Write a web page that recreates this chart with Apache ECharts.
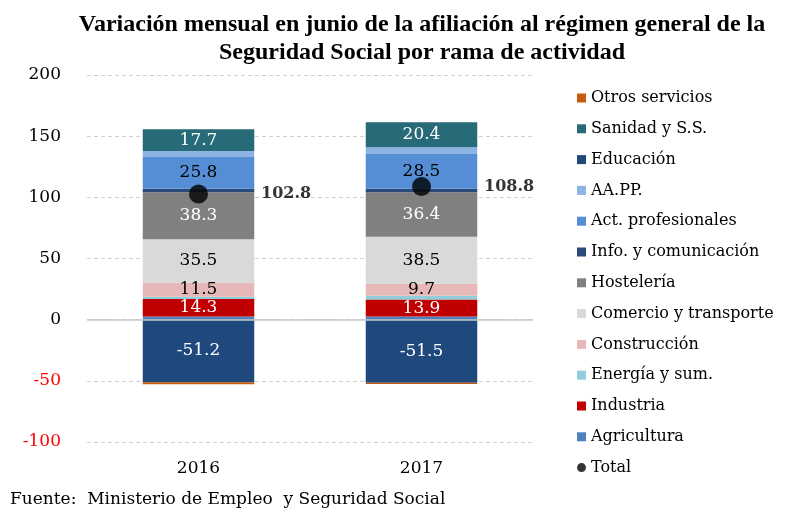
<!DOCTYPE html>
<html>
<head>
<meta charset="utf-8">
<script src="https://cdn.jsdelivr.net/npm/echarts@6/dist/echarts.min.js"></script>
<style>
  body { margin: 0; background: #fff; }
  #chart { width: 793px; height: 512px; }
</style>
</head>
<body>
<div id="chart"></div>
<script>
  // años
  var years = ['2016', '2017'];
  // ramas de actividad (valores en miles)
  var agricultura = [2.5, 2.5];
  var industria = [14.3, 13.9];
  var energia = [2.0, 3.2];
  var construccion = [11.5, 9.7];
  var comercio = [35.5, 38.5];
  var hosteleria = [38.3, 36.4];
  var info = [3.0, 2.8];
  var actProf = [25.8, 28.5];
  var aapp = [5.0, 5.5];
  var educacion = [-51.2, -51.5];
  var sanidad = [17.7, 20.4];
  var otros = [-1.6, -1.1];
  var total = [102.8, 108.8];
  var yTicks = [-100, -50, 0, 50, 100, 150, 200];

  var fontFamily = '"DejaVu Serif", "Liberation Serif", serif';
  var titleFont = '"Liberation Serif", serif';

  function barSerie(name, data, color, showLabel, labelColor) {
    return {
      name: name,
      type: 'bar',
      stack: 'ramas',
      barWidth: '50%',
      data: data,
      itemStyle: {color: color},
      label: {
        show: showLabel,
        position: 'inside',
        color: labelColor,
        fontFamily: fontFamily,
        fontSize: 17,
        formatter: function (p) {
          return p.value.toFixed(1);
        }
      },
      emphasis: {disabled: true}
    };
  }

  var series = [
    barSerie('Agricultura', agricultura, '#4f81bd', false),
    barSerie('Industria', industria, '#c00000', true, '#ffffff'),
    barSerie('Energía y sum.', energia, '#92cddc', false),
    barSerie('Construcción', construccion, '#e6b9b8', true, '#000000'),
    barSerie('Comercio y transporte', comercio, '#d9d9d9', true, '#000000'),
    barSerie('Hostelería', hosteleria, '#808080', true, '#ffffff'),
    barSerie('Info. y comunicación', info, '#2a4a7a', false),
    barSerie('Act. profesionales', actProf, '#558ed5', true, '#000000'),
    barSerie('AA.PP.', aapp, '#8eb4e3', false),
    barSerie('Educación', educacion, '#1f497d', true, '#ffffff'),
    barSerie('Sanidad y S.S.', sanidad, '#276a78', true, '#ffffff'),
    barSerie('Otros servicios', otros, '#c55a11', false)
  ];

  // linea de cero
  series[0].markLine = {
    silent: true,
    symbol: 'none',
    label: {show: false},
    lineStyle: {color: '#c8c8c8', type: 'solid', width: 1.5},
    data: [{yAxis: 0}]
  };

  series.push({
    name: 'Total',
    type: 'scatter',
    data: total,
    symbol: 'circle',
    symbolSize: 19,
    z: 10,
    itemStyle: {color: '#000000'},
    label: {
      show: true,
      position: 'right',
      distance: 53,
      color: '#000000',
      fontFamily: fontFamily,
      fontWeight: 'bold',
      fontSize: 16
    }
  });

  var legendOrder = ['Otros servicios', 'Sanidad y S.S.', 'Educación', 'AA.PP.', 'Act. profesionales',
    'Info. y comunicación', 'Hostelería', 'Comercio y transporte', 'Construcción', 'Energía y sum.',
    'Industria', 'Agricultura', 'Total'];

  var myChart = echarts.init(document.getElementById('chart'));
  var option = {
    animation: false,
    title: {
      text: 'Variación mensual en junio de la afiliación al régimen general de la\nSeguridad Social por rama de actividad',
      left: 417,
      top: 6,
      textAlign: 'center',
      textStyle: {
        fontFamily: titleFont,
        fontWeight: 'bold',
        fontSize: 24,
        lineHeight: 28,
        color: '#000'
      }
    },
    graphic: [{
      type: 'text',
      left: 10,
      top: 491,
      style: {
        text: 'Fuente:  Ministerio de Empleo  y Seguridad Social',
        fontFamily: fontFamily,
        fontSize: 17,
        fill: '#000'
      }
    }],
    legend: {
      orient: 'vertical',
      left: 572,
      top: 84,
      itemWidth: 9,
      itemHeight: 9,
      itemGap: 12.8,
      data: legendOrder.map(function (n) {
        return n === 'Total' ? {name: n, icon: 'circle'} : {name: n, icon: 'rect'};
      }),
      textStyle: {
        fontFamily: fontFamily,
        fontSize: 16,
        lineHeight: 18,
        color: '#000'
      },
      selectedMode: false
    },
    grid: {
      left: 87,
      right: 260,
      top: 75,
      bottom: 70
    },
    xAxis: {
      type: 'category',
      data: years,
      axisLine: {show: false, onZero: false},
      axisTick: {show: false},
      axisLabel: {
        margin: 18,
        fontFamily: fontFamily,
        fontSize: 17,
        color: '#000'
      }
    },
    yAxis: {
      type: 'value',
      min: yTicks[0],
      max: yTicks[yTicks.length - 1],
      interval: 50,
      axisLine: {show: false},
      axisTick: {show: false},
      axisLabel: {
        margin: 26,
        fontFamily: fontFamily,
        fontSize: 17,
        color: function (v) {
          return v < 0 ? '#ff0000' : '#000000';
        }
      },
      splitLine: {
        lineStyle: {color: '#d0d0d0', type: [4, 3], width: 1}
      }
    },
    series: series
  };
  myChart.setOption(option, true);
</script>
</body>
</html>
